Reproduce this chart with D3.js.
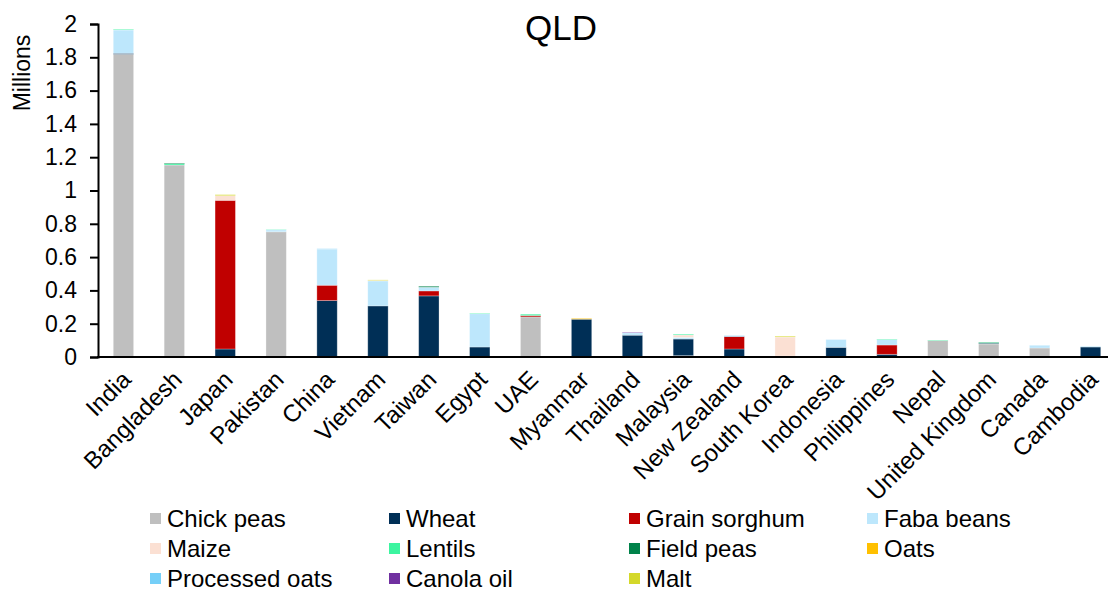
<!DOCTYPE html>
<html>
<head>
<meta charset="utf-8">
<script src="https://cdn.jsdelivr.net/npm/d3@7"></script>
<style>
  body { margin: 0; background: #fff; }
  text { font-family: "Liberation Sans", Arial, sans-serif; fill: #000; }
</style>
</head>
<body>
<svg id="chart" width="1108" height="592"></svg>
<script>
// categories (destination countries)
var countries = ["India", "Bangladesh", "Japan", "Pakistan", "China", "Vietnam", "Taiwan", "Egypt", "UAE", "Myanmar",
  "Thailand", "Malaysia", "New Zealand", "South Korea", "Indonesia", "Philippines", "Nepal", "United Kingdom", "Canada", "Cambodia"];

var commodities = ["Chick peas", "Wheat", "Grain sorghum", "Faba beans", "Maize", "Lentils", "Field peas", "Oats",
  "Processed oats", "Canola oil", "Malt"];

var colours = ["#bfbfbf", "#002f56", "#c00000", "#bde7fc", "#fbe0d3", "#3cf5a0", "#00824a", "#ffc000",
  "#75cff8", "#7030a0", "#d4d82a"];

// values in millions, one array per commodity, in country order
var chickPeas     = [1.818, 1.153, 0, 0.752, 0, 0, 0, 0, 0.241, 0, 0, 0.008, 0, 0, 0, 0, 0.099, 0.078, 0.054, 0];
var wheat         = [0.006, 0, 0.048, 0, 0.339, 0.307, 0.367, 0.060, 0, 0.227, 0.131, 0.100, 0.048, 0.006, 0.058, 0.016, 0, 0.005, 0, 0.060];
var grainSorghum  = [0, 0, 0.893, 0, 0.092, 0, 0.030, 0, 0.008, 0, 0, 0, 0.075, 0, 0, 0.056, 0, 0, 0, 0];
var fabaBeans     = [0.140, 0, 0, 0.012, 0.217, 0.150, 0.022, 0.200, 0, 0, 0.010, 0.010, 0, 0, 0.047, 0.033, 0, 0, 0.014, 0];
var maize         = [0, 0, 0.028, 0, 0, 0.003, 0, 0, 0, 0, 0, 0.014, 0, 0.114, 0, 0, 0, 0, 0, 0];
var lentils       = [0.004, 0.008, 0, 0.002, 0, 0, 0, 0.003, 0.008, 0, 0, 0.005, 0, 0, 0, 0.003, 0.003, 0.005, 0, 0];
var fieldPeas     = [0, 0.004, 0, 0, 0, 0, 0.006, 0, 0, 0, 0, 0, 0, 0, 0, 0, 0, 0.002, 0, 0];
var oats          = [0, 0, 0, 0, 0, 0, 0, 0, 0, 0.005, 0, 0, 0, 0, 0, 0, 0, 0, 0, 0];
var processedOats = [0, 0, 0, 0, 0.002, 0, 0, 0, 0, 0, 0.004, 0, 0.005, 0, 0, 0, 0, 0, 0.002, 0.002];
var canolaOil     = [0, 0, 0, 0, 0, 0, 0, 0, 0, 0, 0.003, 0, 0, 0, 0, 0, 0, 0, 0, 0];
var malt          = [0, 0, 0.006, 0, 0, 0.003, 0, 0, 0, 0, 0, 0, 0, 0.005, 0, 0, 0, 0, 0, 0];

var yTicks = [0, 0.2, 0.4, 0.6, 0.8, 1, 1.2, 1.4, 1.6, 1.8, 2];

var series = [chickPeas, wheat, grainSorghum, fabaBeans, maize, lentils, fieldPeas, oats, processedOats, canolaOil, malt];

// table for d3.stack
var table = countries.map(function (c, i) {
  var row = { country: c };
  commodities.forEach(function (k, j) { row[k] = series[j][i]; });
  return row;
});

var svg = d3.select("#chart");

var x = d3.scaleBand()
  .domain(countries)
  .range([98, 1116])
  .paddingInner(0.6)
  .paddingOuter(0.3);

var y = d3.scaleLinear()
  .domain([0, 2])
  .range([357, 24]);

var colour = d3.scaleOrdinal().domain(commodities).range(colours);

var stacked = d3.stack().keys(commodities)(table);

// bars
svg.append("g")
  .selectAll("g")
  .data(stacked)
  .enter()
  .append("g")
    .attr("fill", function (d) { return colour(d.key); })
  .selectAll("rect")
  .data(function (d) { return d; })
  .enter()
  .append("rect")
    .attr("x", function (d) { return x(d.data.country); })
    .attr("y", function (d) { return y(d[1]); })
    .attr("width", x.bandwidth())
    .attr("height", function (d) { return Math.max(0, y(d[0]) - y(d[1])); })
    .attr("stroke", function (d) { return (d[1] - d[0]) > 0 ? "rgba(255,255,255,0.35)" : "none"; })
    .attr("stroke-width", 0.8);

// y axis
var yAxis = svg.append("g")
  .attr("transform", "translate(98,0)")
  .call(d3.axisLeft(y).tickValues(yTicks).tickSize(8).tickPadding(13).tickFormat(d3.format("")));
yAxis.select(".domain").attr("stroke", "#000").attr("stroke-width", 2);
yAxis.selectAll(".tick line").attr("stroke", "#000").attr("stroke-width", 2);
yAxis.selectAll(".tick text")
  .style("font-size", "23px")
  .style("font-family", "'Liberation Sans', Arial, sans-serif");

// x axis
var xAxis = svg.append("g")
  .attr("transform", "translate(0,357)")
  .call(d3.axisBottom(x).tickSize(0).tickPadding(0));
xAxis.select(".domain").attr("d", "M97,0H1108").attr("stroke", "#000").attr("stroke-width", 2);
xAxis.selectAll(".tick text")
  .style("font-size", "24px")
  .style("font-family", "'Liberation Sans', Arial, sans-serif")
  .attr("text-anchor", "end")
  .attr("dy", 0)
  .attr("transform", "translate(9,24) rotate(-45)");

// axis title
svg.append("text")
  .attr("transform", "translate(30,73) rotate(-90)")
  .attr("text-anchor", "middle")
  .style("font-size", "23px")
  .text("Millions");

// chart title
svg.append("text")
  .attr("x", 561)
  .attr("y", 40)
  .attr("text-anchor", "middle")
  .style("font-size", "35px")
  .text("QLD");

// legend
var legendX = [150, 389, 629, 867];
var legendY = [519, 549, 579];

var legend = svg.append("g")
  .selectAll("g")
  .data(commodities)
  .enter()
  .append("g")
    .attr("transform", function (d, i) {
      return "translate(" + legendX[i % 4] + "," + legendY[Math.floor(i / 4)] + ")";
    });

legend.append("rect")
  .attr("x", 0)
  .attr("y", -6)
  .attr("width", 11)
  .attr("height", 11)
  .attr("fill", function (d) { return colour(d); });

legend.append("text")
  .attr("x", 17)
  .attr("y", 8)
  .style("font-size", "24px")
  .text(function (d) { return d; });
</script>
</body>
</html>
